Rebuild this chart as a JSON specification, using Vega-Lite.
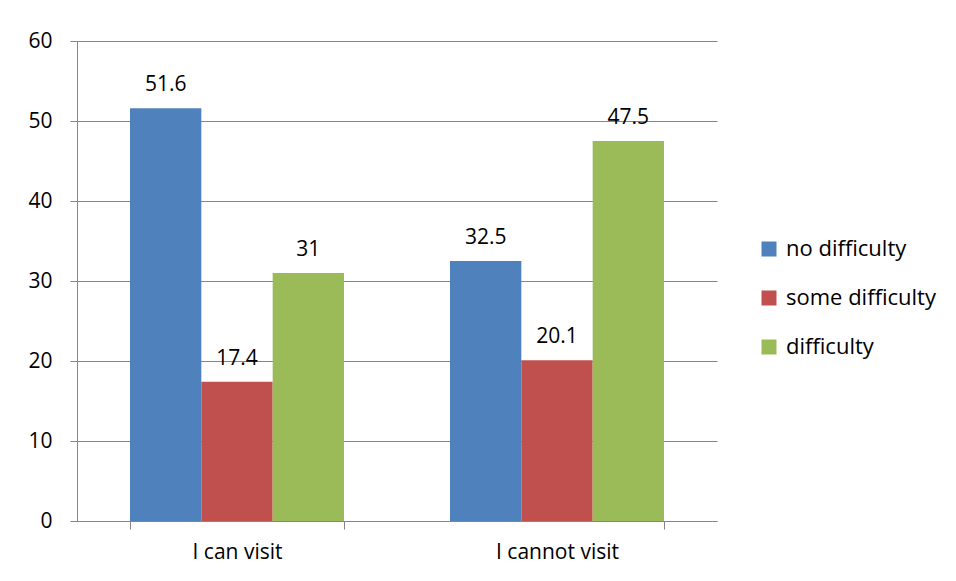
{
  "$schema": "https://vega.github.io/schema/vega-lite/v6.json",
  "width": 640,
  "height": 480,
  "autosize": {"type": "none"},
  "padding": {"left": 77, "top": 41, "right": 239, "bottom": 60},
  "background": "white",
  "config": {
    "view": {"stroke": null},
    "font": "Open Sans",
    "axis": {"labelFont": "Open Sans", "labelColor": "#000000", "labelFontSize": 21, "domainColor": "#868686", "tickColor": "#868686", "gridColor": "#868686", "domainWidth": 1, "tickWidth": 1, "gridWidth": 1},
    "legend": {"labelFont": "Open Sans", "labelFontSize": 22, "labelColor": "#000000"}
  },
  "data": {
    "values": [
      {"group": "I can visit", "cat": "no difficulty", "value": 51.6},
      {"group": "I can visit", "cat": "some difficulty", "value": 17.4},
      {"group": "I can visit", "cat": "difficulty", "value": 31},
      {"group": "I cannot visit", "cat": "no difficulty", "value": 32.5},
      {"group": "I cannot visit", "cat": "some difficulty", "value": 20.1},
      {"group": "I cannot visit", "cat": "difficulty", "value": 47.5}
    ]
  },
  "encoding": {
    "x": {
      "field": "group", "type": "nominal", "sort": null, "title": null,
      "scale": {"paddingInner": 0.33125, "paddingOuter": 0.165625},
      "axis": {"labelAngle": 0, "tickBand": "extent", "tickSize": 8, "labelPadding": 12, "grid": false}
    },
    "xOffset": {"field": "cat", "type": "nominal", "sort": ["no difficulty", "some difficulty", "difficulty"], "scale": {"paddingInner": 0, "paddingOuter": 0}},
    "y": {
      "field": "value", "type": "quantitative", "title": null,
      "scale": {"domain": [0, 60], "nice": false},
      "axis": {"values": [0, 10, 20, 30, 40, 50, 60], "tickSize": 7, "labelPadding": 18, "grid": true}
    }
  },
  "layer": [
    {
      "mark": {"type": "bar"},
      "encoding": {
        "color": {
          "field": "cat", "type": "nominal", "title": null,
          "sort": ["no difficulty", "some difficulty", "difficulty"],
          "scale": {"domain": ["no difficulty", "some difficulty", "difficulty"], "range": ["#4F81BD", "#C0504D", "#9BBB59"]},
          "legend": {"orient": "none", "legendX": 681, "legendY": 197, "symbolType": "square", "symbolSize": 225, "symbolStrokeWidth": 0, "rowPadding": 27, "labelOffset": 6}
        }
      }
    },
    {
      "mark": {"type": "text", "baseline": "middle", "dy": -23, "fontSize": 21, "color": "#000000"},
      "encoding": {"text": {"field": "value", "type": "quantitative"}}
    }
  ]
}
